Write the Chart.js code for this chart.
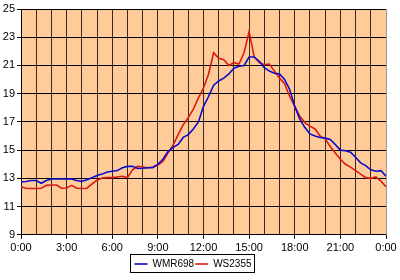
<!DOCTYPE html>
<html>
<head>
<meta charset="utf-8">
<script src="https://cdn.jsdelivr.net/npm/chart.js@4"></script>
<style>
  html, body { margin: 0; padding: 0; background: #fff; }
  #wrap { width: 400px; height: 280px; }
</style>
</head>
<body>
<div id="wrap"><canvas id="tempChart"></canvas></div>
<script>
// time of day in hours, one reading every 20 minutes
var hours = Array.from({ length: 73 }, function (_, i) { return i / 3; });

var wmr698 = [
  12.75, 12.78, 12.85, 12.85, 12.65, 12.85, 12.95, 12.95, 12.95, 12.95, 12.95, 12.85,
  12.78, 12.9, 13.05, 13.2, 13.3, 13.45, 13.5, 13.55, 13.75, 13.85, 13.85, 13.7,
  13.72, 13.75, 13.75, 14.0, 14.35, 14.9, 15.2, 15.4, 15.9, 16.1, 16.5, 17.0,
  18.1, 18.8, 19.6, 19.9, 20.1, 20.4, 20.8, 20.95, 21.0, 21.6, 21.6, 21.3,
  20.85, 20.6, 20.45, 20.4, 20.0, 19.3, 18.1, 17.2, 16.6, 16.15, 16.0, 15.9,
  15.85, 15.75, 15.4, 15.0, 14.95, 14.85, 14.5, 14.1, 13.9, 13.6, 13.5, 13.55,
  13.15
];

var ws2355 = [
  12.4, 12.3, 12.28, 12.28, 12.3, 12.5, 12.53, 12.53, 12.3, 12.32, 12.5, 12.3,
  12.28, 12.3, 12.6, 12.87, 13.02, 13.05, 13.05, 13.1, 13.15, 13.05, 13.6, 13.85,
  13.8, 13.75, 13.8, 13.95, 14.2, 14.8, 15.35, 16.1, 16.8, 17.3, 17.9, 18.7,
  19.4, 20.4, 21.9, 21.5, 21.4, 21.0, 21.2, 21.1, 21.9, 23.4, 21.6, 21.2,
  21.05, 21.1, 20.6, 20.1, 19.7, 18.8, 18.1, 17.4, 16.95, 16.7, 16.5, 16.0,
  15.8, 15.25, 14.8, 14.35, 14.0, 13.8, 13.55, 13.3, 13.05, 13.0, 13.1, 12.8,
  12.4
];

var yTicks = [9, 11, 13, 15, 17, 19, 21, 23, 25];

function pts(vals) {
  return vals.map(function (v, i) { return { x: hours[i], y: v }; });
}

// peach background behind the plot + frame round the legend
var plotBg = {
  id: 'plotBg',
  beforeDraw: function (chart) {
    var a = chart.chartArea, c = chart.ctx;
    c.save();
    c.fillStyle = '#ffcc99';
    c.fillRect(a.left, a.top, a.right - a.left, a.bottom - a.top);
    c.restore();
  },
  afterDraw: function (chart) {
    var c = chart.ctx, a = chart.chartArea;
    c.save();
    c.strokeStyle = '#999';
    c.lineWidth = 1;
    c.beginPath();
    c.moveTo(a.right + 0.5, a.top);
    c.lineTo(a.right + 0.5, a.bottom);
    c.stroke();
    var boxes = chart.legend.legendHitBoxes;
    if (boxes && boxes.length) {
      var l = Math.min.apply(null, boxes.map(function (b) { return b.left; }));
      var r = Math.max.apply(null, boxes.map(function (b) { return b.left + b.width; }));
      var t = Math.min.apply(null, boxes.map(function (b) { return b.top; }));
      var bt = Math.max.apply(null, boxes.map(function (b) { return b.top + b.height; }));
      c.strokeStyle = '#000';
      c.strokeRect(Math.round(l) - 3.5, Math.round(t) - 4.5, Math.round(r - l) + 7, Math.round(bt - t) + 8);
    }
    c.restore();
  }
};

var font = { family: '"Liberation Sans", Arial, sans-serif', size: 11 };

new Chart(document.getElementById('tempChart'), {
  type: 'line',
  data: {
    datasets: [{
      label: 'WMR698',
      data: pts(wmr698),
      borderColor: '#0a0acc',
      borderWidth: 1.6,
      pointRadius: 0,
      tension: 0
    }, {
      label: 'WS2355',
      data: pts(ws2355),
      borderColor: '#dd1a10',
      borderWidth: 1.6,
      pointRadius: 0,
      tension: 0
    }]
  },
  options: {
    responsive: true,
    maintainAspectRatio: false,
    animation: false,
    layout: { padding: { left: 0, right: 14, top: 9, bottom: 1 } },
    plugins: {
      tooltip: { enabled: false },
      legend: {
        position: 'bottom',
        labels: {
          usePointStyle: true,
          pointStyle: 'line',
          pointStyleWidth: 13,
          boxHeight: 8,
          padding: 1,
          color: '#000',
          font: { family: font.family, size: 10 }
        }
      }
    },
    scales: {
      x: {
        type: 'linear',
        min: 0,
        max: 24,
        border: { color: '#000' },
        grid: {
          color: '#3a2818',
          tickLength: 4,
          tickColor: function (ctx) { return ctx.tick && ctx.tick.value % 3 === 0 ? '#000' : 'rgba(0,0,0,0)'; }
        },
        ticks: {
          stepSize: 1,
          autoSkip: false,
          maxRotation: 0,
          color: '#000',
          font: font,
          padding: 3,
          callback: function (v) { return v % 3 === 0 ? (v % 24) + ':00' : ''; }
        }
      },
      y: {
        min: yTicks[0],
        max: yTicks[yTicks.length - 1],
        border: { color: '#000' },
        afterFit: function (s) { s.width = 21; },
        afterBuildTicks: function (s) { s.ticks = yTicks.map(function (v) { return { value: v }; }); },
        grid: { color: '#000', tickLength: 4, tickColor: '#000' },
        ticks: { color: '#000', font: font, padding: 2 }
      }
    }
  },
  plugins: [plotBg]
});
</script>
</body>
</html>
